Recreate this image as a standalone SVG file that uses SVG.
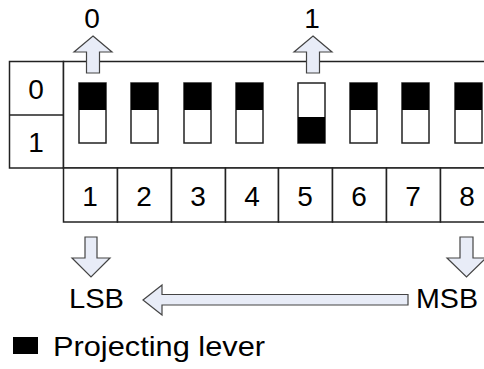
<svg xmlns="http://www.w3.org/2000/svg" width="484" height="369" viewBox="0 0 484 369">
<style>
.t{font-family:"Liberation Sans",Arial,sans-serif;fill:#000}
.n{font-size:28px;text-anchor:middle}
.box{fill:#fff;stroke:#222;stroke-width:1.5}
.sw{fill:#fff;stroke:#222;stroke-width:1.5}
.blk{fill:#000}
.arr{fill:#e8ecf7;stroke:#444;stroke-width:1.2;stroke-linejoin:miter}
</style>
<rect width="484" height="369" fill="#fff"/>
<g id="frame">
<rect class="box" x="9.5" y="61.5" width="54" height="106.5"/>
<line x1="9.5" y1="115" x2="63.5" y2="115" stroke="#222" stroke-width="1.5"/>
<rect class="box" x="63.5" y="61.5" width="440" height="106.5"/>
<text class="t n" x="36" y="99">0</text>
<text class="t n" x="36" y="152">1</text>
</g>
<g id="switches">
<g id="sw1"><rect class="sw" x="79" y="83" width="27" height="60"/><rect class="blk" x="79" y="83" width="27" height="27"/></g>
<g id="sw2"><rect class="sw" x="131" y="83" width="27" height="60"/><rect class="blk" x="131" y="83" width="27" height="27"/></g>
<g id="sw3"><rect class="sw" x="184" y="83" width="27" height="60"/><rect class="blk" x="184" y="83" width="27" height="27"/></g>
<g id="sw4"><rect class="sw" x="236" y="83" width="27" height="60"/><rect class="blk" x="236" y="83" width="27" height="27"/></g>
<g id="sw5"><rect class="sw" x="298" y="83" width="27" height="60"/><rect class="blk" x="298" y="117" width="27" height="26"/></g>
<g id="sw6"><rect class="sw" x="350" y="83" width="27" height="60"/><rect class="blk" x="350" y="83" width="27" height="27"/></g>
<g id="sw7"><rect class="sw" x="402" y="83" width="27" height="60"/><rect class="blk" x="402" y="83" width="27" height="27"/></g>
<g id="sw8"><rect class="sw" x="455" y="83" width="27" height="60"/><rect class="blk" x="455" y="83" width="27" height="27"/></g>
</g>
<g id="numbers">
<rect class="box" x="63.5" y="168" width="54" height="54"/>
<rect class="box" x="117.5" y="168" width="54" height="54"/>
<rect class="box" x="171.5" y="168" width="54" height="54"/>
<rect class="box" x="225.5" y="168" width="53" height="54"/>
<rect class="box" x="278.5" y="168" width="54" height="54"/>
<rect class="box" x="332.5" y="168" width="54" height="54"/>
<rect class="box" x="386.5" y="168" width="54" height="54"/>
<rect class="box" x="440.5" y="168" width="54" height="54"/>
<text class="t n" x="90" y="206">1</text>
<text class="t n" x="144" y="206">2</text>
<text class="t n" x="198" y="206">3</text>
<text class="t n" x="252" y="206">4</text>
<text class="t n" x="305" y="206">5</text>
<text class="t n" x="359" y="206">6</text>
<text class="t n" x="413" y="206">7</text>
<text class="t n" x="467" y="206">8</text>
</g>
<g id="connectors">
<path class="arr" d="M93,36 L112,52 L99.5,52 L99.5,73 L86.5,73 L86.5,52 L74,52 Z"/>
<path class="arr" d="M313,36 L332,52 L319.5,52 L319.5,73 L306.5,73 L306.5,52 L294,52 Z"/>
<path class="arr" d="M85,237 L97,237 L97,258 L110,258 L91,277 L72,258 L85,258 Z"/>
<path class="arr" d="M460,237 L473,237 L473,258 L486,258 L466.5,277 L447,258 L460,258 Z"/>
<path class="arr" d="M143,300 L162,285 L162,294.5 L408,294.5 L408,305 L162,305 L162,315 Z"/>
</g>
<g id="labels">
<text class="t n" x="92" y="28" font-size="26">0</text>
<text class="t n" x="312" y="28" font-size="26">1</text>
<text class="t" x="69" y="308" font-size="28" textLength="55" lengthAdjust="spacingAndGlyphs">LSB</text>
<text class="t" x="416" y="308" font-size="28" textLength="62" lengthAdjust="spacingAndGlyphs">MSB</text>
</g>
<g id="legend">
<rect class="blk" x="13" y="337" width="25" height="17"/>
<text class="t" x="53" y="356" font-size="28" textLength="212" lengthAdjust="spacingAndGlyphs">Projecting lever</text>
</g>
</svg>
